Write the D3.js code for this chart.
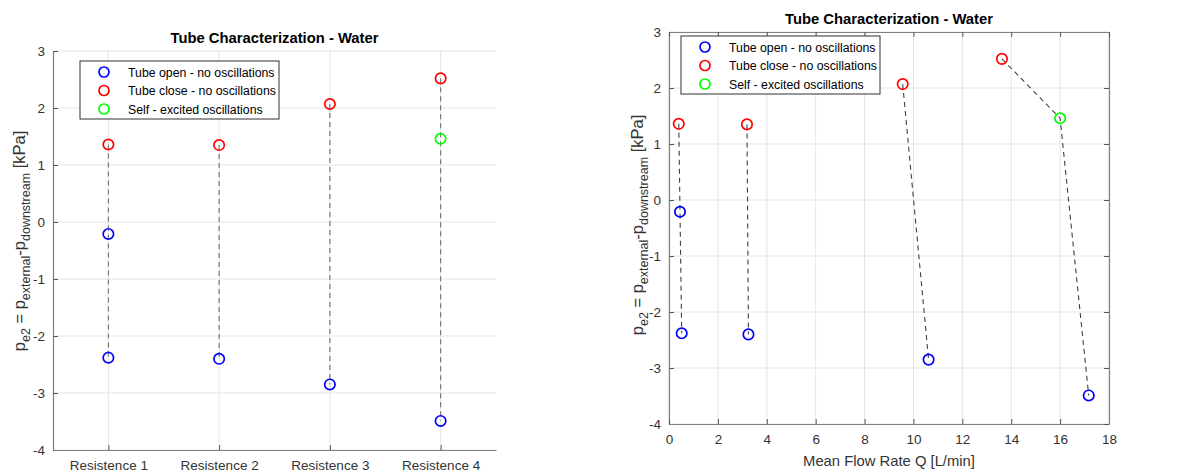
<!DOCTYPE html>
<html>
<head>
<meta charset="utf-8">
<script src="https://cdn.jsdelivr.net/npm/d3@7"></script>
<style>
  body { margin: 0; background: #fff; }
  svg { font-family: "Liberation Sans", Arial, sans-serif; }
</style>
</head>
<body>
<svg id="chart" width="1195" height="475"></svg>
<script>
// data
const categories = ['Resistence 1', 'Resistence 2', 'Resistence 3', 'Resistence 4'];
const seriesNames = ['Tube open - no oscillations', 'Tube close - no oscillations', 'Self - excited oscillations'];
const seriesColors = ['#0000ff', '#ff0000', '#00ff00'];

// one entry per measured point, grouped by resistence (1..4)
const resistIndex = [1, 1, 1, 2, 2, 3, 3, 4, 4, 4];
const pressure = [1.36, -0.21, -2.38, 1.35, -2.40, 2.07, -2.85, 2.52, 1.46, -3.49];
const flowRate = [0.40, 0.45, 0.52, 3.19, 3.25, 9.56, 10.62, 13.62, 16.0, 17.17];
const state = [1, 0, 0, 1, 0, 1, 0, 1, 2, 0];

const yTicks = [-4, -3, -2, -1, 0, 1, 2, 3];
const xTicksQ = [0, 2, 4, 6, 8, 10, 12, 14, 16, 18];

const points = resistIndex.map((r, i) => ({ r, p: pressure[i], q: flowRate[i], s: state[i] }));
const groups = d3.groups(points, d => d.r);

const svg = d3.select('#chart');
const gridColor = '#e5e5e5';
const axisColor = '#808080';
const textColor = '#333';
const plain = d => String(d); // hyphen minus like the original

function drawPanel(opts) {
  const { x, y, left, right, top, bottom, boxed, lineColor } = opts;
  const g = svg.append('g');

  // grid
  g.append('g').selectAll('line').data(yTicks).join('line')
    .attr('x1', left).attr('x2', right)
    .attr('y1', d => y(d)).attr('y2', d => y(d))
    .attr('stroke', gridColor).attr('stroke-width', 1);
  g.append('g').selectAll('line').data(opts.xTickVals).join('line')
    .attr('x1', d => x(d)).attr('x2', d => x(d))
    .attr('y1', top).attr('y2', bottom)
    .attr('stroke', gridColor).attr('stroke-width', 1);

  // axes
  const axL = g.append('g').attr('transform', `translate(${left},0)`)
    .call(d3.axisLeft(y).tickValues(yTicks).tickFormat(plain).tickSizeInner(-5).tickSizeOuter(0).tickPadding(8));
  const axB = g.append('g').attr('transform', `translate(0,${bottom})`)
    .call(d3.axisBottom(x).tickValues(opts.xTickVals).tickFormat(opts.xFormat)
      .tickSizeInner(-5).tickSizeOuter(0).tickPadding(10));
  const axes = [axL, axB];
  if (boxed) {
    axes.push(g.append('g').attr('transform', `translate(${right},0)`)
      .call(d3.axisRight(y).tickValues(yTicks).tickSizeInner(-5).tickSizeOuter(0).tickFormat('')));
    axes.push(g.append('g').attr('transform', `translate(0,${top})`)
      .call(d3.axisTop(x).tickValues(opts.xTickVals).tickSizeInner(-5).tickSizeOuter(0).tickFormat('')));
  }
  axes.forEach(a => {
    a.select('.domain').attr('stroke', axisColor).attr('stroke-width', 1.2);
    a.selectAll('.tick line').attr('stroke', '#555');
    a.selectAll('.tick text').attr('fill', textColor).style('font-size', '13.5px');
  });

  // dashed connectors
  const line = d3.line().x(d => x(opts.xVal(d))).y(d => y(d.p));
  g.append('g').selectAll('path').data(groups).join('path')
    .attr('d', d => line(d[1]))
    .attr('fill', 'none')
    .attr('stroke', lineColor)
    .attr('stroke-width', 1.1)
    .attr('stroke-dasharray', '5,4');

  // markers
  g.append('g').selectAll('circle').data(points).join('circle')
    .attr('cx', d => x(opts.xVal(d))).attr('cy', d => y(d.p))
    .attr('r', 5.2)
    .attr('fill', 'none')
    .attr('stroke', d => seriesColors[d.s])
    .attr('stroke-width', 1.7);

  // title
  g.append('text')
    .attr('x', (left + right) / 2).attr('y', top - 8)
    .attr('text-anchor', 'middle')
    .style('font-size', '14.8px').style('font-weight', 'bold')
    .attr('fill', '#000')
    .text('Tube Characterization - Water');

  // y label with subscripts
  const yl = g.append('text')
    .attr('transform', `translate(${opts.yLabelX},${opts.yLabelY}) rotate(-90)`)
    .attr('text-anchor', 'middle')
    .attr('fill', textColor)
    .style('font-size', '16.5px');
  yl.append('tspan').text('p');
  yl.append('tspan').attr('dy', 5).style('font-size', '12.5px').text('e2');
  yl.append('tspan').attr('dy', -5).text(' = p');
  yl.append('tspan').attr('dy', 5).style('font-size', '12.5px').text('external');
  yl.append('tspan').attr('dy', -5).text('-p');
  yl.append('tspan').attr('dy', 5).style('font-size', '12.5px').text('downstream');
  yl.append('tspan').attr('dy', -5).text(' [kPa]');

  // legend
  const lg = g.append('g').attr('transform', `translate(${opts.legend[0]},${opts.legend[1]})`);
  lg.append('rect').attr('width', 199).attr('height', 58)
    .attr('fill', '#fff').attr('stroke', '#303030').attr('stroke-width', 1);
  const rows = lg.selectAll('g').data(seriesNames).join('g')
    .attr('transform', (d, i) => `translate(0,${11 + i * 18.5})`);
  rows.append('circle').attr('cx', 24).attr('cy', 0).attr('r', 5)
    .attr('fill', 'none').attr('stroke', (d, i) => seriesColors[i]).attr('stroke-width', 1.7);
  rows.append('text').attr('x', 48).attr('y', 4.5)
    .attr('fill', '#000').style('font-size', '12.3px').text(d => d);

  if (opts.xLabel) {
    g.append('text')
      .attr('x', (left + right) / 2).attr('y', bottom + 42)
      .attr('text-anchor', 'middle').attr('fill', textColor)
      .style('font-size', '14.8px').text(opts.xLabel);
  }
}

// left panel: by resistence
const L = { left: 53, right: 496, top: 51, bottom: 450 };
drawPanel({
  ...L,
  x: d3.scaleLinear().domain([0.5, 4.5]).range([L.left, L.right]),
  y: d3.scaleLinear().domain([-4, 3]).range([L.bottom, L.top]),
  xTickVals: [1, 2, 3, 4],
  xFormat: d => categories[d - 1],
  xVal: d => d.r,
  boxed: false,
  lineColor: '#707070',
  yLabelX: 25,
  yLabelY: 241,
  legend: [80, 61]
});

// right panel: by mean flow rate
const R = { left: 669, right: 1109, top: 32, bottom: 424 };
drawPanel({
  ...R,
  x: d3.scaleLinear().domain([0, 18]).range([R.left, R.right]),
  y: d3.scaleLinear().domain([-4, 3]).range([R.bottom, R.top]),
  xTickVals: xTicksQ,
  xFormat: plain,
  xVal: d => d.q,
  boxed: true,
  lineColor: '#404040',
  yLabelX: 643,
  yLabelY: 225,
  legend: [681, 36],
  xLabel: 'Mean Flow Rate Q [L/min]'
});
</script>
</body>
</html>
